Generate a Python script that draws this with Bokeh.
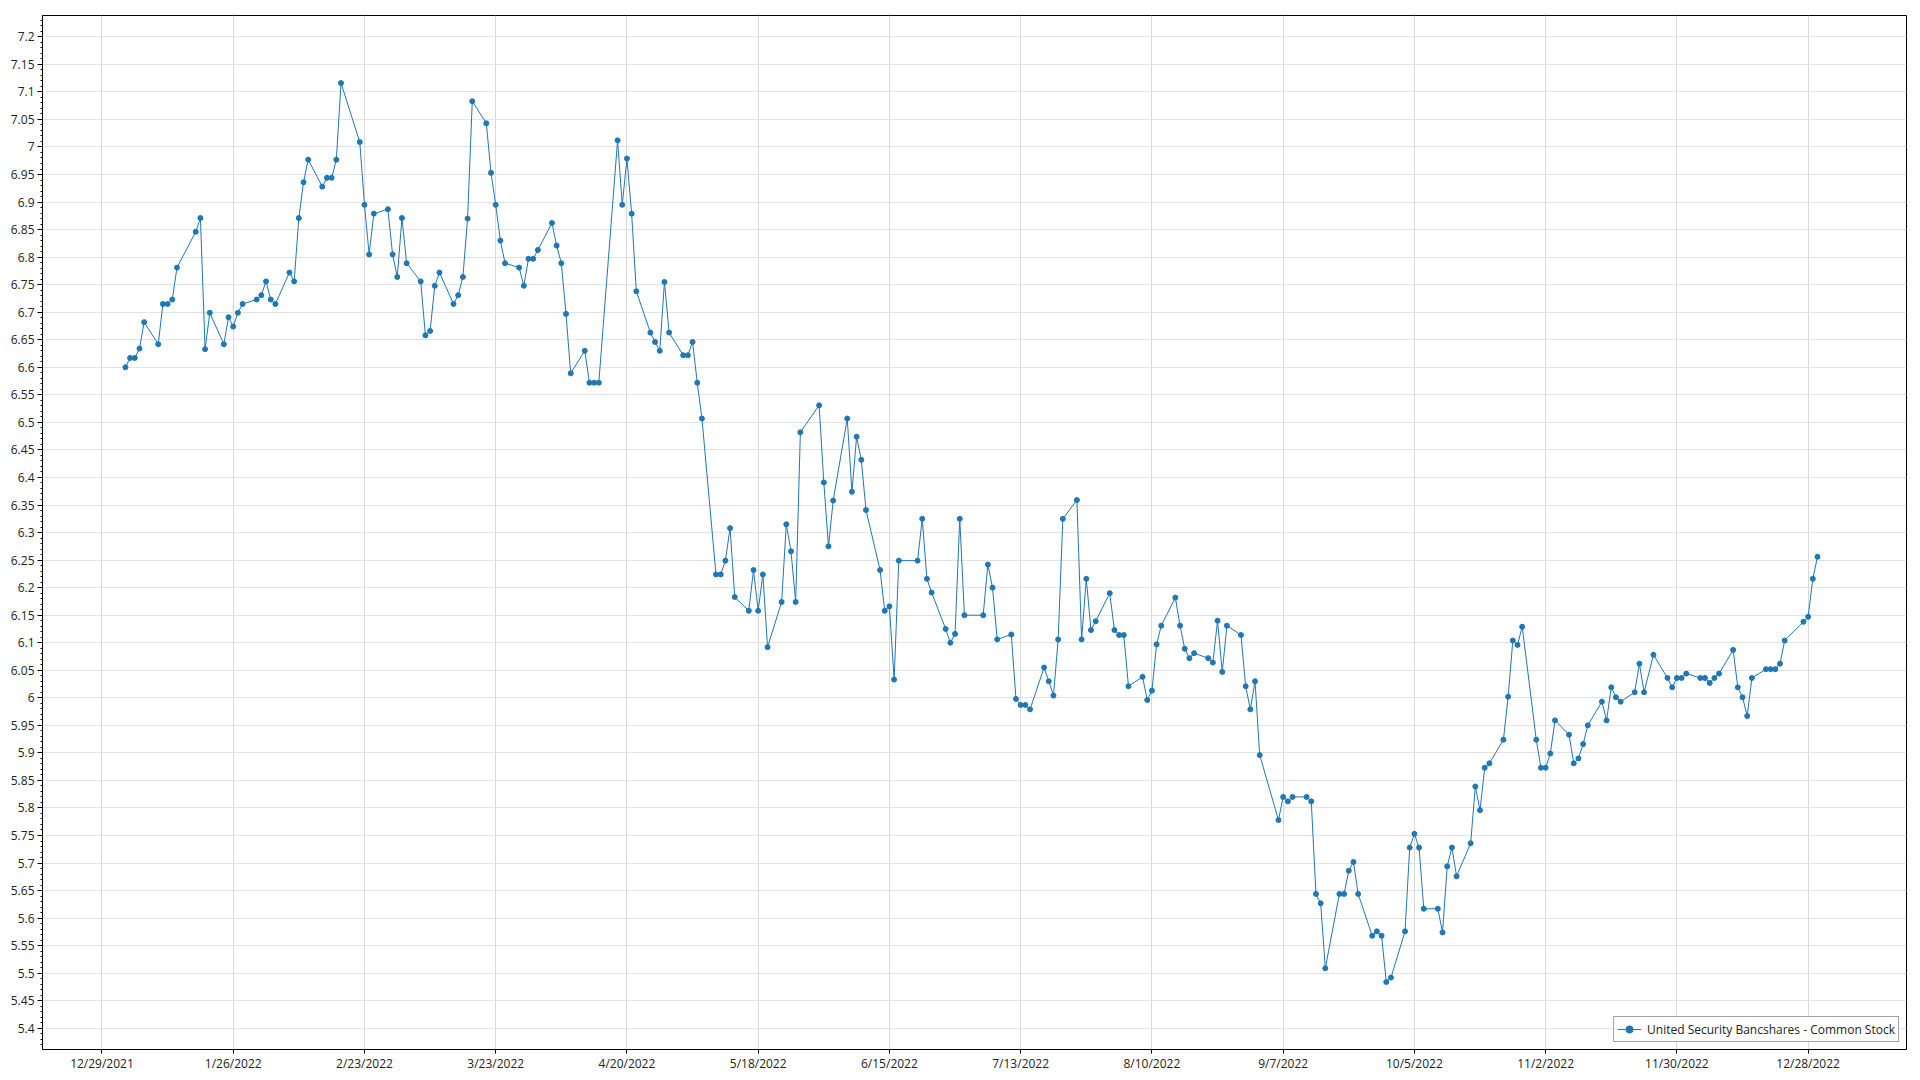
import pandas as pd
from bokeh.plotting import figure
from bokeh.models import (ColumnDataSource, Range1d, FixedTicker, SingleIntervalTicker,
                          CustomJSTickFormatter, Legend, LegendItem)
from bokeh.embed import file_html
from bokeh.resources import INLINE

series_name = "United Security Bancshares - Common Stock"

# NYSE trading days of 2022
market_holidays = ["2022-01-17", "2022-02-21", "2022-04-15", "2022-05-30", "2022-06-20",
                   "2022-07-04", "2022-09-05", "2022-11-24", "2022-12-26"]
trade_dates = pd.bdate_range("2022-01-03", "2022-12-30", freq="C", holidays=market_holidays)

jan = [6.600, 6.617, 6.617, 6.634, 6.682, 6.642, 6.715, 6.715, 6.723, 6.781,
       6.846, 6.871, 6.633, 6.699, 6.642, 6.691, 6.674, 6.699, 6.715, 6.723]
feb = [6.731, 6.756, 6.723, 6.715, 6.772, 6.756, 6.871, 6.936, 6.977, 6.928,
       6.944, 6.944, 6.977, 7.116, 7.009, 6.895, 6.805, 6.879, 6.887]
mar = [6.805, 6.764, 6.871, 6.789, 6.756, 6.658, 6.666, 6.748, 6.772, 6.715,
       6.731, 6.764, 6.870, 7.083, 7.043, 6.953, 6.895, 6.830, 6.789, 6.781,
       6.748, 6.797, 6.797]
apr = [6.813, 6.862, 6.821, 6.789, 6.697, 6.589, 6.630, 6.572, 6.572, 6.572,
       7.012, 6.895, 6.979, 6.879, 6.738, 6.663, 6.646, 6.630, 6.755, 6.663]
may = [6.622, 6.622, 6.646, 6.572, 6.507, 6.224, 6.224, 6.249, 6.308, 6.183,
       6.158, 6.232, 6.158, 6.224, 6.092, 6.174, 6.315, 6.266, 6.174, 6.482, 6.531]
jun = [6.391, 6.275, 6.358, 6.507, 6.374, 6.474, 6.432, 6.341, 6.232, 6.158,
       6.166, 6.033, 6.249, 6.249, 6.325, 6.216, 6.191, 6.125, 6.100, 6.116, 6.325]
jul = [6.150, 6.150, 6.242, 6.200, 6.106, 6.115, 5.998, 5.987, 5.987, 5.979,
       6.055, 6.030, 6.004, 6.106, 6.325, 6.359, 6.106, 6.216, 6.123, 6.139]
aug = [6.190, 6.123, 6.114, 6.114, 6.021, 6.038, 5.996, 6.013, 6.097, 6.131,
       6.182, 6.131, 6.089, 6.072, 6.081, 6.072, 6.064, 6.140, 6.047, 6.131,
       6.114, 6.021, 5.979]
sep = [6.030, 5.896, 5.778, 5.820, 5.812, 5.820, 5.820, 5.812, 5.644, 5.627,
       5.509, 5.644, 5.644, 5.686, 5.702, 5.644, 5.568, 5.576, 5.568, 5.484, 5.492]
oct_ = [5.576, 5.728, 5.753, 5.728, 5.617, 5.617, 5.574, 5.694, 5.728, 5.676,
        5.736, 5.839, 5.796, 5.873, 5.881, 5.924, 6.002, 6.104, 6.096, 6.129, 5.924]
nov = [5.873, 5.873, 5.899, 5.959, 5.933, 5.881, 5.890, 5.916, 5.950, 5.993,
       5.959, 6.019, 6.001, 5.993, 6.010, 6.062, 6.010, 6.078, 6.036, 6.019, 6.036]
dec = [6.036, 6.044, 6.036, 6.036, 6.027, 6.036, 6.044, 6.087, 6.019, 6.001,
       5.967, 6.036, 6.052, 6.052, 6.052, 6.062, 6.104, 6.138, 6.147, 6.216, 6.256]

prices = jan + feb + mar + apr + may + jun + jul + aug + sep + oct_ + nov + dec

x_tick_labels = ["12/29/2021", "1/26/2022", "2/23/2022", "3/23/2022", "4/20/2022",
                 "5/18/2022", "6/15/2022", "7/13/2022", "8/10/2022", "9/7/2022",
                 "10/5/2022", "11/2/2022", "11/30/2022", "12/28/2022"]

n = min(len(trade_dates), len(prices))
source = ColumnDataSource(data=dict(date=trade_dates[:n], price=prices[:n]))

span = trade_dates[n - 1] - trade_dates[0]
x_start = trade_dates[0] - span * 0.049
x_end = trade_dates[n - 1] + span * 0.0526

FONT = "Open Sans"

p = figure(width=1920, height=1080, x_axis_type="datetime",
           output_backend="svg", toolbar_location=None,
           x_range=Range1d(x_start, x_end), y_range=Range1d(5.3615, 7.2387),
           min_border_left=42, min_border_right=14, min_border_top=15, min_border_bottom=31)

p.outline_line_color = "black"
p.outline_line_width = 1
p.background_fill_color = "white"
p.border_fill_color = "white"

tick_ms = [pd.Timestamp(pd.to_datetime(t, format="%m/%d/%Y")).value // 10**6 for t in x_tick_labels]
p.xaxis.ticker = FixedTicker(ticks=tick_ms)
p.xaxis.formatter = CustomJSTickFormatter(code="""
const d = new Date(tick);
return (d.getUTCMonth() + 1) + '/' + d.getUTCDate() + '/' + d.getUTCFullYear();
""")
p.yaxis.ticker = SingleIntervalTicker(interval=0.05, num_minor_ticks=5)
p.yaxis.formatter = CustomJSTickFormatter(code="return String(Math.round(tick * 100) / 100);")

for ax in (p.xaxis[0], p.yaxis[0]):
    ax.axis_line_color = "black"
    ax.major_tick_line_color = "black"
    ax.minor_tick_line_color = "black"
    ax.major_label_text_font = FONT
    ax.major_label_text_font_size = "12px"
    ax.major_label_text_color = "#222222"
    ax.major_tick_in = 0
    ax.minor_tick_in = 0
p.xaxis.major_tick_out = 4
p.xaxis.major_label_standoff = 1
p.yaxis.major_tick_out = 5
p.yaxis.minor_tick_out = 2
p.yaxis.major_label_standoff = 3

p.xgrid.grid_line_color = "#d9d9d9"
p.ygrid.grid_line_color = "#e3e3e3"
p.xgrid.grid_line_width = 1
p.ygrid.grid_line_width = 1

ln = p.line("date", "price", source=source, line_color="#1f77b4", line_width=1)
pts = p.scatter("date", "price", source=source, size=5,
                fill_color="#1f77b4", line_color="#1f77b4")

legend = Legend(items=[LegendItem(label=series_name, renderers=[ln, pts])],
                location="bottom_right")
legend.label_text_font = FONT
legend.label_text_font_size = "12px"
legend.label_text_color = "#222222"
legend.border_line_color = "#444444"
legend.border_line_width = 1
legend.background_fill_color = "white"
legend.background_fill_alpha = 1
legend.padding = 3
legend.margin = 7
legend.glyph_width = 24
legend.glyph_height = 18
legend.label_standoff = 6
legend.label_height = 18
p.add_layout(legend)

open("out.html", "w").write(file_html(p, INLINE))
